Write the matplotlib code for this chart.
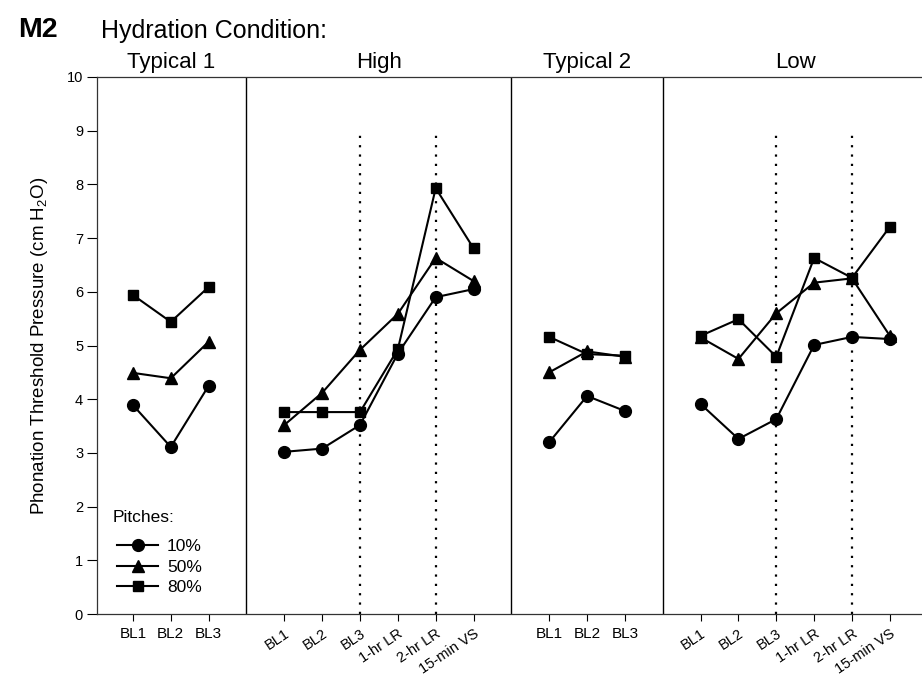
import matplotlib
matplotlib.use("Agg")
import numpy as np
import matplotlib.pyplot as plt
from matplotlib.lines import Line2D

plt.rcParams["font.family"] = ["Liberation Sans", "DejaVu Sans"]

# --- Data ---
conditions = ["Typical 1", "High", "Typical 2", "Low"]
baseline_labels = ["BL1", "BL2", "BL3"]
session_labels = ["BL1", "BL2", "BL3", "1-hr LR", "2-hr LR", "15-min VS"]
pitches = ["10%", "50%", "80%"]

typical1_p10 = [3.89, 3.11, 4.25]
typical1_p50 = [4.49, 4.39, 5.07]
typical1_p80 = [5.94, 5.44, 6.09]

high_p10 = [3.02, 3.08, 3.52, 4.85, 5.90, 6.05]
high_p50 = [3.52, 4.12, 4.92, 5.59, 6.63, 6.20]
high_p80 = [3.76, 3.76, 3.76, 4.93, 7.93, 6.81]

typical2_p10 = [3.20, 4.06, 3.78]
typical2_p50 = [4.50, 4.89, 4.79]
typical2_p80 = [5.16, 4.84, 4.81]

low_p10 = [3.91, 3.26, 3.63, 5.01, 5.16, 5.12]
low_p50 = [5.15, 4.75, 5.60, 6.17, 6.25, 5.18]
low_p80 = [5.18, 5.49, 4.79, 6.63, 6.26, 7.21]

# --- Layout: x positions of each panel ---
group_start = [1, 5, 12, 16]
dividers = [4, 11, 15]
dotted_marks = [7, 9, 18, 20]  # BL3 and 2-hr LR in High / Low

series = [
    [typical1_p10, typical1_p50, typical1_p80],
    [high_p10, high_p50, high_p80],
    [typical2_p10, typical2_p50, typical2_p80],
    [low_p10, low_p50, low_p80],
]
group_labels = [baseline_labels, session_labels, baseline_labels, session_labels]
markers = ["o", "^", "s"]
msizes = [8.5, 8.5, 7]

fig = plt.figure(figsize=(9.22, 6.79), dpi=100)
ax = fig.add_axes([97 / 922, 1 - 614 / 679, 825 / 922, 537 / 679])

tick_pos, tick_lab, tick_rot = [], [], []
for g, (start, vals_list, labels) in enumerate(zip(group_start, series, group_labels)):
    x = np.arange(start, start + len(labels))
    for vals, mk, ms in zip(vals_list, markers, msizes):
        ax.plot(x, vals, color="black", lw=1.5, marker=mk, ms=ms, zorder=3)
    tick_pos.extend(x)
    tick_lab.extend(labels)
    tick_rot.extend([0 if len(labels) == 3 else 34] * len(labels))
    ax.text(x.mean(), 1.008, conditions[g], transform=ax.get_xaxis_transform(),
            ha="center", va="bottom", fontsize=16)

for d in dividers:
    ax.plot([d, d], [0, 10], color="black", lw=1.0, zorder=2)
for d in dotted_marks:
    ax.plot([d, d], [0, 9], color="black", lw=1.6, linestyle=(0, (1, 3.2)), zorder=1)

ax.set_xlim(0.05, 21.85)
ax.set_ylim(0, 10)
ax.set_yticks(range(0, 11))
ax.set_xticks(tick_pos)
ax.set_xticklabels(tick_lab)
for lab, rot in zip(ax.get_xticklabels(), tick_rot):
    lab.set_fontsize(11)
    if rot:
        lab.set_fontsize(10.5)
        lab.set_rotation(rot)
        lab.set_ha("right")
        lab.set_va("top")
        lab.set_rotation_mode("anchor")
ax.tick_params(axis="x", direction="out", length=5, width=0.8, pad=4)
ax.tick_params(axis="y", direction="out", length=7, width=0.8, labelsize=10.5, pad=3)
ax.spines["right"].set_visible(False)
for s in ["left", "bottom", "top"]:
    ax.spines[s].set_linewidth(0.9)
    ax.spines[s].set_color("#333333")

ax.set_ylabel("Phonation Threshold Pressure (cm H$_\\mathregular{2}$O)", fontsize=13.5, labelpad=12)

# legend: title as separate text, entries below it
ax.text(0.45, 1.79, "Pitches:", fontsize=12.5, ha="left", va="center")
handles = [Line2D([], [], color="black", lw=1.5, marker=mk, ms=ms) for mk, ms in zip(markers, msizes)]
ax.legend(handles, pitches, loc="lower left", bbox_to_anchor=(0.005, 0.006),
          frameon=False, fontsize=12.5, handlelength=2.4, handletextpad=0.5, labelspacing=0.3)

fig.text(18 / 922, 1 - 30 / 679, "M2", fontsize=20.5, fontweight="bold", ha="left", va="center")
fig.text(101 / 922, 1 - 31 / 679, "Hydration Condition:", fontsize=18, ha="left", va="center")

fig.savefig("out.png", dpi=100)
